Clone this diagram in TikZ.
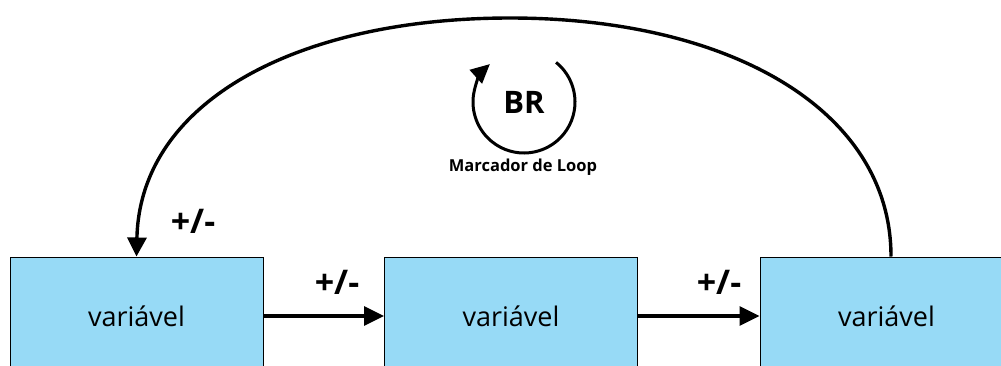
\documentclass[tikz,border=0pt]{standalone}
\usepackage{fontspec}
\setmainfont{Open Sans}
\usetikzlibrary{arrows.meta}
\definecolor{boxblue}{HTML}{97DAF6}
\begin{document}
\begin{tikzpicture}[x=1pt,y=-1pt,
  varbox/.style={draw=black,line width=1pt,fill=boxblue,minimum width=253pt,minimum height=118pt,inner sep=0pt,font=\fontsize{27}{30}\selectfont},
  link/.style={line width=3.3pt,-{Triangle[length=20pt,width=19pt]}},
  sign/.style={font=\bfseries\fontsize{34}{36}\selectfont},
  fb/.style={line width=3.4pt,-{Triangle[length=19pt,width=19pt]}}]
\clip (0,0) rectangle (1001,365);
\useasboundingbox (0,0) rectangle (1001,365);
\node[varbox] (b1) at (136.5,316) {variável};
\node[varbox] (b2) at (511,316) {variável};
\node[varbox] (b3) at (886.5,316) {variável};
\draw[link] (b1.east) -- (b2.west);
\draw[link] (b2.east) -- (b3.west);
\node[sign] (s1) at (193,221) {+/-};
\node[sign] (s2) at (337,282) {+/-};
\node[sign] (s3) at (719,282) {+/-};
\draw[fb] ([xshift=4.5pt]b3.north) .. controls (891,110) and (730,18) .. (510,18)
  .. controls (300,18) and (140,100) .. (b1.north);
\node[font=\bfseries\fontsize{31}{34}\selectfont] (br) at (524,102) {BR};
\draw[line width=3pt,-{Triangle[length=19pt,width=18pt]}] (br.center) ++(-51:51) arc[start angle=-51,end angle=228,radius=51];
\node[font=\bfseries\fontsize{16.5}{18}\selectfont] (ml) at (523,167) {Marcador de Loop};
\end{tikzpicture}
\end{document}
